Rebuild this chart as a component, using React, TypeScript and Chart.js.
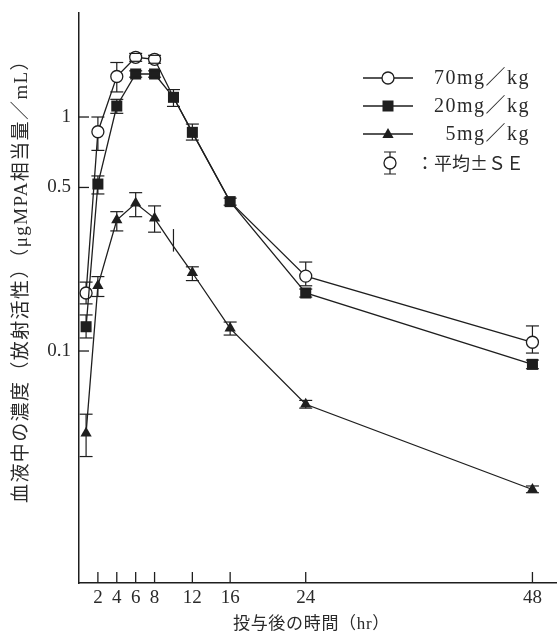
import { useEffect, useRef } from "react";
import { Chart, registerables } from "chart.js";

Chart.register(...registerables);

// ---- data (hours after dosing) ----
const times = [0.75, 2, 4, 6, 8, 10, 12, 16, 24, 48];

const conc70 = [0.177, 0.865, 1.49, 1.8, 1.765, 1.214, 0.86, 0.435, 0.209, 0.109];
const low70 = [0.159, 0.72, 1.28, 1.73, 1.697, 1.214, 0.86, 0.435, 0.19, 0.098];
const high70 = [0.197, 1.0, 1.71, 1.87, 1.835, 1.214, 0.86, 0.435, 0.24, 0.128];
const marker70 = [true, true, true, true, true, false, false, false, true, true];

const conc20 = [0.127, 0.517, 1.114, 1.527, 1.527, 1.214, 0.86, 0.435, 0.177, 0.0877];
const low20 = [0.1137, 0.469, 1.037, 1.48, 1.48, 1.11, 0.797, 0.42, 0.17, 0.084];
const high20 = [0.1426, 0.56, 1.19, 1.575, 1.575, 1.31, 0.933, 0.45, 0.184, 0.0915];

const conc5 = [0.0445, 0.19, 0.363, 0.428, 0.369, 0.28, 0.216, 0.125, 0.0592, 0.0256];
const low5 = [0.0354, 0.171, 0.326, 0.375, 0.322, 0.266, 0.2, 0.117, 0.057, 0.0248];
const high5 = [0.0537, 0.208, 0.394, 0.475, 0.417, 0.332, 0.229, 0.133, 0.0615, 0.0265];
const marker5 = [true, true, true, true, true, false, true, true, true, true];

const xTicks = [2, 4, 6, 8, 12, 16, 24, 48];
const yTicks = [0.1, 0.5, 1];

const seriesLabels = ["70mg／kg", "20mg／kg", "5mg／kg"];
const seLabel = "：平均±ＳＥ";
const xTitle = "投与後の時間（hr）";
const yTitle = "血液中の濃度（放射活性）（μgMPA相当量／mL）";

const INK = "#1e1e1e";
const TEXT = "#2a2a2a";
const FONT = '"Liberation Serif", "Noto Sans CJK JP", serif';
const CJKFONT = '"Liberation Serif", "Noto Sans CJK JP", sans-serif';
const CJKFIRST = '"Noto Sans CJK JP", sans-serif';
const PLOT_RIGHT = 557;

function drawMarker(ctx: CanvasRenderingContext2D, style: string, x: number, y: number) {
  ctx.save();
  ctx.lineWidth = 1.3;
  ctx.strokeStyle = INK;
  if (style === "circle") {
    ctx.fillStyle = "#fff";
    ctx.beginPath();
    ctx.arc(x, y, 6, 0, Math.PI * 2);
    ctx.fill();
    ctx.stroke();
  } else if (style === "rect") {
    ctx.fillStyle = INK;
    ctx.fillRect(x - 5.5, y - 5.5, 11, 11);
  } else {
    ctx.fillStyle = INK;
    ctx.beginPath();
    ctx.moveTo(x, y - 6);
    ctx.lineTo(x + 5.6, y + 4);
    ctx.lineTo(x - 5.6, y + 4);
    ctx.closePath();
    ctx.fill();
  }
  ctx.restore();
}

const stretchRight = {
  id: "stretchRight",
  afterLayout(chart: any) {
    const x = chart.scales.x;
    chart.chartArea.right = PLOT_RIGHT;
    chart.chartArea.width = PLOT_RIGHT - chart.chartArea.left;
    x.right = PLOT_RIGHT;
    x.width = PLOT_RIGHT - x.left;
    x.configure();
  },
};

const errorBars = {
  id: "errorBars",
  beforeDatasetsDraw(chart: any) {
    const { ctx, scales } = chart;
    ctx.save();
    ctx.strokeStyle = INK;
    ctx.lineWidth = 1.2;
    chart.data.datasets.forEach((ds: any) => {
      ds.data.forEach((p: any, i: number) => {
        if (ds.errLow[i] === ds.errHigh[i]) return;
        const x = scales.x.getPixelForValue(p.x);
        const y1 = scales.y.getPixelForValue(ds.errLow[i]);
        const y2 = scales.y.getPixelForValue(ds.errHigh[i]);
        ctx.beginPath();
        ctx.moveTo(x, y1);
        ctx.lineTo(x, y2);
        ctx.stroke();
      });
    });
    ctx.restore();
  },
  afterDatasetsDraw(chart: any) {
    const { ctx, scales } = chart;
    ctx.save();
    ctx.strokeStyle = INK;
    ctx.lineWidth = 1.2;
    chart.data.datasets.forEach((ds: any) => {
      ds.data.forEach((p: any, i: number) => {
        if (ds.errCaps && ds.errCaps[i] === false) return;
        if (ds.errLow[i] === ds.errHigh[i]) return;
        const x = scales.x.getPixelForValue(p.x);
        [ds.errLow[i], ds.errHigh[i]].forEach((v: number) => {
          const y = scales.y.getPixelForValue(v);
          ctx.beginPath();
          ctx.moveTo(x - 6.5, y);
          ctx.lineTo(x + 6.5, y);
          ctx.stroke();
        });
      });
    });
    ctx.restore();
  },
};

const innerTicks = {
  id: "innerTicks",
  afterDraw(chart: any) {
    const { ctx, scales, chartArea } = chart;
    ctx.save();
    ctx.strokeStyle = INK;
    ctx.lineWidth = 1.3;
    xTicks.forEach((v) => {
      const x = scales.x.getPixelForValue(v);
      ctx.beginPath();
      ctx.moveTo(x, chartArea.bottom);
      ctx.lineTo(x, chartArea.bottom - 11);
      ctx.stroke();
    });
    yTicks.forEach((v) => {
      const y = scales.y.getPixelForValue(v);
      ctx.beginPath();
      ctx.moveTo(chartArea.left, y);
      ctx.lineTo(chartArea.left + 10, y);
      ctx.stroke();
    });
    ctx.restore();
  },
};

function fitText(ctx: CanvasRenderingContext2D, text: string, span: number) {
  (ctx as any).letterSpacing = "0px";
  const w = ctx.measureText(text).width;
  const sp = (span - w) / text.length;
  (ctx as any).letterSpacing = `${sp}px`;
}

const titlesAndLegend = {
  id: "titlesAndLegend",
  afterDraw(chart: any) {
    const { ctx } = chart;
    ctx.save();
    ctx.fillStyle = TEXT;
    ctx.textBaseline = "middle";

    // x title
    ctx.font = `17px ${CJKFONT}`;
    ctx.textAlign = "left";
    fitText(ctx, xTitle, 157);
    ctx.fillText(xTitle, 233, 625);

    // y title (rotated)
    ctx.save();
    ctx.translate(22, 503);
    ctx.rotate(-Math.PI / 2);
    ctx.font = `19px ${CJKFONT}`;
    ctx.textAlign = "left";
    fitText(ctx, yTitle, 453);
    ctx.fillText(yTitle, 0, 0);
    ctx.restore();

    // legend
    const rows = [78, 106, 134];
    const styles = ["circle", "rect", "triangle"];
    ctx.font = `20px ${FONT}`;
    ctx.textAlign = "right";
    (ctx as any).letterSpacing = "1.5px";
    rows.forEach((y, i) => {
      ctx.save();
      ctx.strokeStyle = INK;
      ctx.lineWidth = 1.3;
      ctx.beginPath();
      ctx.moveTo(363, y);
      ctx.lineTo(413, y);
      ctx.stroke();
      ctx.restore();
      drawMarker(ctx, styles[i], 388, y);
      ctx.fillText(seriesLabels[i], 530, y + 1);
    });
    // SE legend
    const sy = 163;
    ctx.save();
    ctx.strokeStyle = INK;
    ctx.lineWidth = 1.2;
    ctx.beginPath();
    ctx.moveTo(390, sy - 11);
    ctx.lineTo(390, sy + 11);
    ctx.moveTo(384, sy - 11);
    ctx.lineTo(396, sy - 11);
    ctx.moveTo(384, sy + 11);
    ctx.lineTo(396, sy + 11);
    ctx.stroke();
    ctx.restore();
    drawMarker(ctx, "circle", 390, sy);
    ctx.textAlign = "left";
    ctx.font = `18px ${CJKFIRST}`;
    fitText(ctx, seLabel, 108);
    ctx.fillText(seLabel, 416, sy);
    ctx.restore();
  },
};

export default function App() {
  const ref = useRef<HTMLCanvasElement | null>(null);

  useEffect(() => {
    if (!ref.current) return;
    const mk = (c: number[]) => times.map((t, i) => ({ x: t, y: c[i] }));
    const chart = new Chart(ref.current, {
      type: "line",
      data: {
        datasets: [
          {
            label: seriesLabels[0],
            data: mk(conc70),
            borderColor: INK,
            borderWidth: 1.3,
            pointStyle: "circle",
            pointRadius: marker70.map((m) => (m ? 6 : 0)),
            pointBackgroundColor: "#fff",
            pointBorderColor: INK,
            pointBorderWidth: 1.3,
            order: 3,
            errLow: low70,
            errHigh: high70,
          } as any,
          {
            label: seriesLabels[1],
            data: mk(conc20),
            borderColor: INK,
            borderWidth: 1.3,
            pointStyle: "rect",
            pointRadius: 7.8,
            pointBackgroundColor: INK,
            pointBorderColor: INK,
            pointBorderWidth: 0,
            order: 2,
            errLow: low20,
            errHigh: high20,
          } as any,
          {
            label: seriesLabels[2],
            data: mk(conc5),
            borderColor: INK,
            borderWidth: 1.3,
            pointStyle: "triangle",
            pointRadius: marker5.map((m) => (m ? 6.5 : 0)),
            pointBackgroundColor: INK,
            pointBorderColor: INK,
            pointBorderWidth: 0,
            order: 1,
            errLow: low5,
            errHigh: high5,
            errCaps: marker5,
          } as any,
        ],
      },
      options: {
        animation: false,
        responsive: false,
        maintainAspectRatio: false,
        events: [],
        layout: { padding: { top: 13, left: 0, right: 0, bottom: 0 } },
        plugins: {
          legend: { display: false },
          tooltip: { enabled: false },
        },
        scales: {
          x: {
            type: "linear",
            min: 0,
            max: 50.6,
            afterBuildTicks: (s: any) => {
              s.ticks = xTicks.map((v) => ({ value: v }));
            },
            afterFit: (s: any) => {
              s.height = 51;
              s.paddingLeft = 0;
              s.paddingRight = 0;
            },
            grid: { display: false, drawTicks: false },
            border: { display: true, color: INK, width: 1.5 },
            ticks: {
              autoSkip: false,
              maxRotation: 0,
              padding: 4,
              color: TEXT,
              font: { family: FONT, size: 19 },
              callback: (v: any) => String(v),
            },
          },
          y: {
            type: "logarithmic",
            min: 0.0102,
            max: 2.783,
            afterBuildTicks: (s: any) => {
              s.ticks = yTicks.map((v) => ({ value: v }));
            },
            afterFit: (s: any) => {
              s.width = 79;
              s.paddingTop = 0;
              s.paddingBottom = 0;
            },
            grid: { display: false, drawTicks: false },
            border: { display: true, color: INK, width: 1.5 },
            ticks: {
              autoSkip: false,
              padding: 8,
              color: TEXT,
              font: { family: FONT, size: 19 },
              callback: (v: any) => String(v),
            },
          },
        },
      },
      plugins: [stretchRight, errorBars, innerTicks, titlesAndLegend],
    });
    return () => chart.destroy();
  }, []);

  return (
    <div style={{ position: "absolute", left: 0, top: 0, width: 557, height: 634, background: "#fff" }}>
      <canvas ref={ref} width={557} height={634} style={{ width: 557, height: 634, display: "block" }} />
    </div>
  );
}
